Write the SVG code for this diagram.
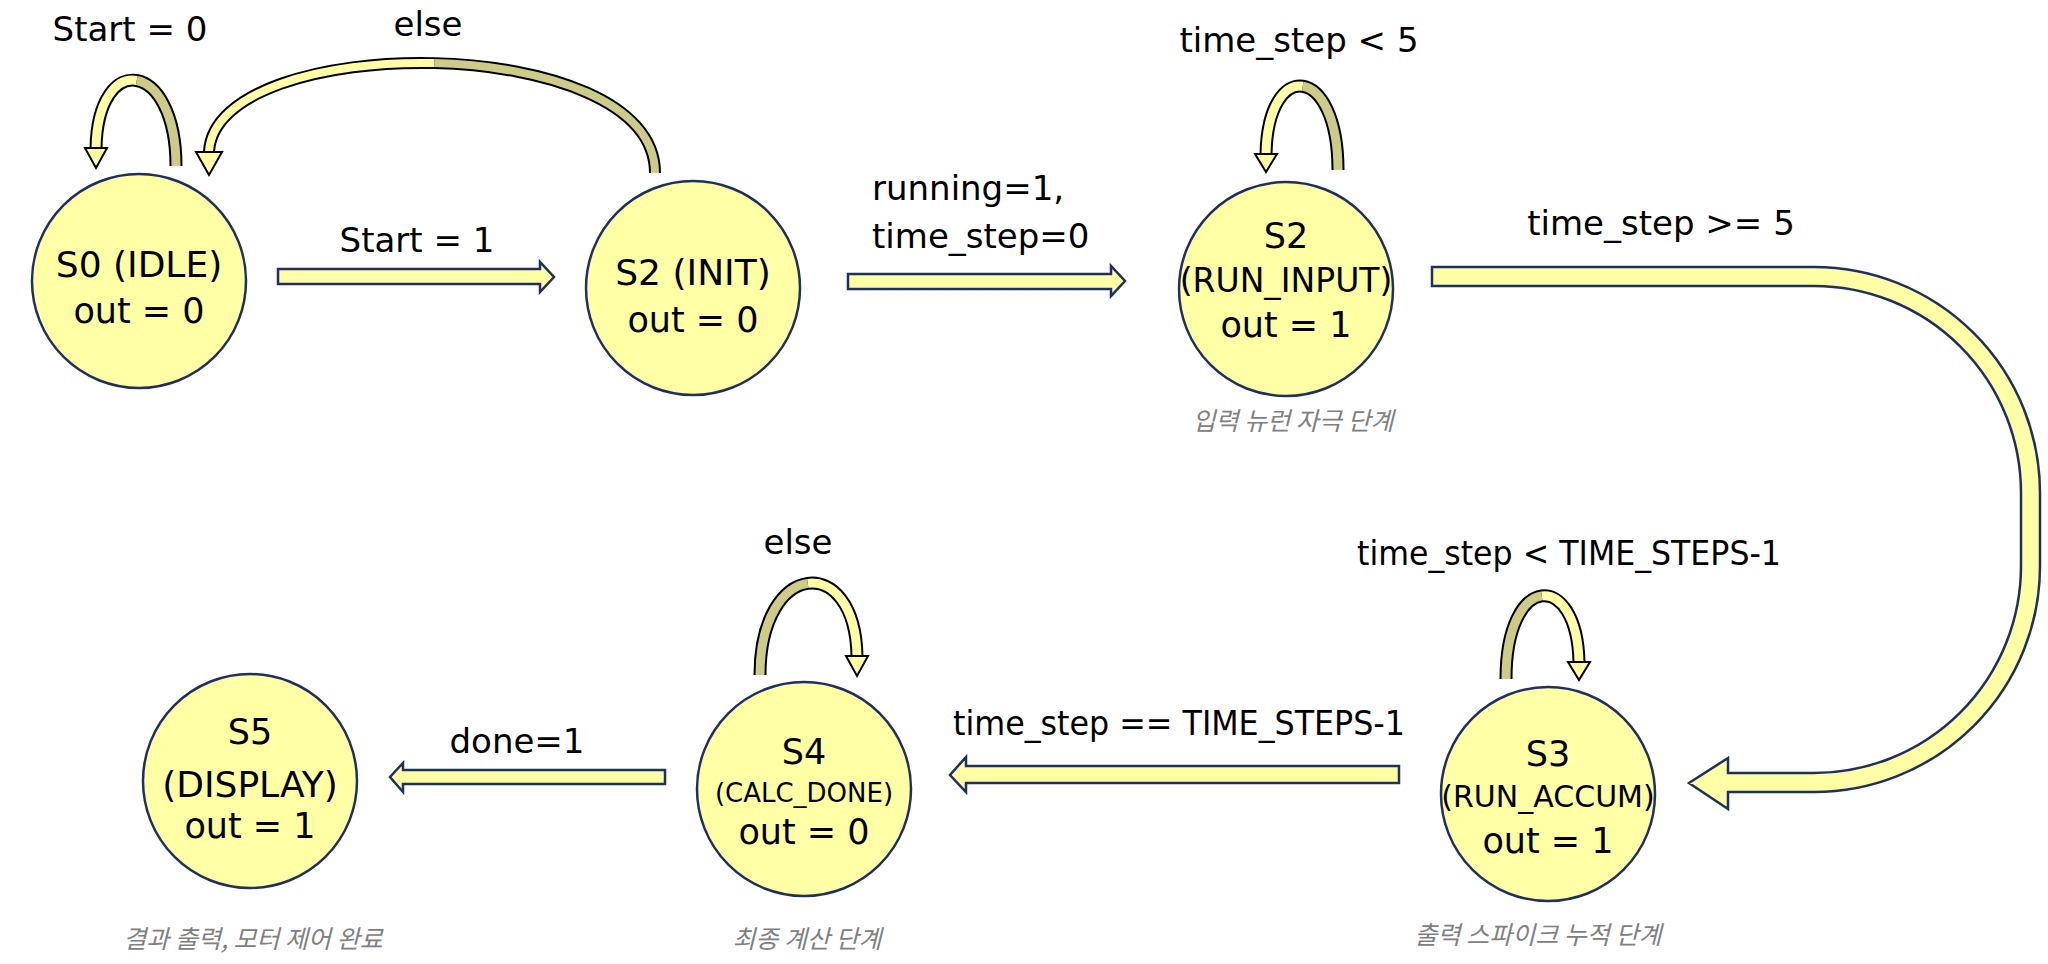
<svg xmlns="http://www.w3.org/2000/svg" width="2048" height="964" viewBox="0 0 2048 964">
<style>
.node{fill:#FFFFA6;stroke:#1F2F5F;stroke-width:2.5}
.t{font-family:"DejaVu Sans",sans-serif;fill:#000;text-anchor:middle}
.lbl{font-family:"DejaVu Sans",sans-serif;font-size:34px;fill:#000}
.cap{font-family:"Noto Sans CJK KR",sans-serif;font-size:25px;font-style:italic;fill:#808080;text-anchor:middle}
.arr{fill:#FFFFA6;stroke:#1F2F5F;stroke-width:2.5;stroke-linejoin:miter}
.lo{fill:none;stroke:#000;stroke-width:13}
.ll{fill:none;stroke:#FFFFA6;stroke-width:9}
.ld{fill:none;stroke:#CCCC88;stroke-width:9}
.hd{fill:#FFFFA6;stroke:#000;stroke-width:2}
</style>
<rect width="2048" height="964" fill="#fff"/>
<g id="connectors">
<polygon class="arr" points="278,269 540,269 540,262 554,277 540,292 540,284 278,284"/>
<polygon class="arr" points="848,274 1111,274 1111,266 1125,281 1111,296 1111,289 848,289"/>
<path class="arr" d="M1432,267 L1814,267 A226,226 0 0 1 2040,493 L2040,566 A226,226 0 0 1 1814,792 L1728,792 L1728,809 L1689,783 L1728,758 L1728,773 L1814,773 A207,207 0 0 0 2021,566 L2021,493 A207,207 0 0 0 1814,286 L1432,286 Z"/>
<polygon class="arr" points="1399,766 966,766 966,757 950,775 966,792 966,783 1399,783"/>
<polygon class="arr" points="665,770 403,770 403,763 390,777 403,792 403,784 665,784"/>
<!-- S0 self loop -->
<path class="lo" d="M176,166 C176,60 98,50 96,148"/>
<path class="ll" d="M136.75,80.5 C117,77 97,99 96,148"/>
<path class="ld" d="M176,166 C176,113 156.5,84 136.75,80.5"/>
<polygon class="hd" points="85,148 107,148 96,168"/>
<!-- else arc -->
<path class="lo" d="M655,173 C655,30 215,30 209,152" style="stroke-width:12"/>
<path class="ll" d="M434.25,63.1 C323.5,60.5 212,91 209,152" style="stroke-width:8"/>
<path class="ld" d="M655,173 C655,101.5 545,65.75 434.25,63.1" style="stroke-width:8"/>
<polygon class="hd" points="196,152 222,152 209,175"/>
<!-- S2 RUN_INPUT loop -->
<path class="lo" d="M1338,170 C1338,64 1268,58 1266,154"/>
<path class="ll" d="M1302.75,86.25 C1285,83.5 1267,106 1266,154"/>
<path class="ld" d="M1338,170 C1338,117 1320.5,89 1302.75,86.25"/>
<polygon class="hd" points="1255,154 1277,154 1266,172"/>
<!-- S3 loop -->
<path class="lo" d="M1506,679 C1506,572 1577,570 1579,662"/>
<path class="ll" d="M1541.75,595.9 C1559.75,593.5 1578,616 1579,662"/>
<path class="ld" d="M1506,679 C1506,625.5 1523.75,598.25 1541.75,595.9"/>
<polygon class="hd" points="1568,662 1590,662 1579,680"/>
<!-- S4 loop -->
<path class="lo" d="M760,675 C760,560 855,552 857,656"/>
<path class="ll" d="M807.75,583.4 C831.75,580 856,604 857,656"/>
<path class="ld" d="M760,675 C760,617.5 783.75,586.75 807.75,583.4"/>
<polygon class="hd" points="846,656 868,656 857,676"/>
</g>
<g id="labels">
<text class="lbl" x="130" y="41" text-anchor="middle">Start = 0</text>
<text class="lbl" x="428" y="36" text-anchor="middle">else</text>
<text class="lbl" x="417" y="252" text-anchor="middle">Start = 1</text>
<text class="lbl" x="872" y="200">running=1,</text>
<text class="lbl" x="872" y="248">time_step=0</text>
<text class="lbl" x="1299" y="52" text-anchor="middle">time_step &lt; 5</text>
<text class="lbl" x="1661" y="235" text-anchor="middle">time_step &gt;= 5</text>
<text class="lbl" x="1569" y="565" text-anchor="middle" textLength="424" lengthAdjust="spacingAndGlyphs">time_step &lt; TIME_STEPS-1</text>
<text class="lbl" x="1179" y="735" text-anchor="middle" textLength="452" lengthAdjust="spacingAndGlyphs">time_step == TIME_STEPS-1</text>
<text class="lbl" x="517" y="753" text-anchor="middle">done=1</text>
<text class="lbl" x="798" y="554" text-anchor="middle">else</text>
</g>
<g id="S0">
<circle class="node" cx="139" cy="281" r="107"/>
<text class="t" x="139" y="277" font-size="36">S0 (IDLE)</text>
<text class="t" x="139" y="323" font-size="35">out = 0</text>
</g>
<g id="S2_INIT">
<circle class="node" cx="693" cy="288" r="107"/>
<text class="t" x="693" y="285" font-size="36">S2 (INIT)</text>
<text class="t" x="693" y="332" font-size="35">out = 0</text>
</g>
<g id="S2_RUN_INPUT">
<circle class="node" cx="1286" cy="289" r="107"/>
<text class="t" x="1286" y="248" font-size="35">S2</text>
<text class="t" x="1286" y="292" font-size="33">(RUN_INPUT)</text>
<text class="t" x="1286" y="337" font-size="35">out = 1</text>
<text class="cap" x="1293" y="430">입력 뉴런 자극 단계</text>
</g>
<g id="S3">
<circle class="node" cx="1548" cy="794" r="107"/>
<text class="t" x="1548" y="766" font-size="35">S3</text>
<text class="t" x="1548" y="807" font-size="30">(RUN_ACCUM)</text>
<text class="t" x="1548" y="853" font-size="35">out = 1</text>
<text class="cap" x="1538" y="944">출력 스파이크 누적 단계</text>
</g>
<g id="S4">
<circle class="node" cx="804" cy="789" r="107"/>
<text class="t" x="804" y="764" font-size="35">S4</text>
<text class="t" x="804" y="802" font-size="26">(CALC_DONE)</text>
<text class="t" x="804" y="844" font-size="35">out = 0</text>
<text class="cap" x="807" y="948">최종 계산 단계</text>
</g>
<g id="S5">
<circle class="node" cx="250" cy="781" r="107"/>
<text class="t" x="250" y="744" font-size="35">S5</text>
<text class="t" x="250" y="797" font-size="36">(DISPLAY)</text>
<text class="t" x="250" y="838" font-size="35">out = 1</text>
<text class="cap" x="253" y="948">결과 출력, 모터 제어 완료</text>
</g>
</svg>
